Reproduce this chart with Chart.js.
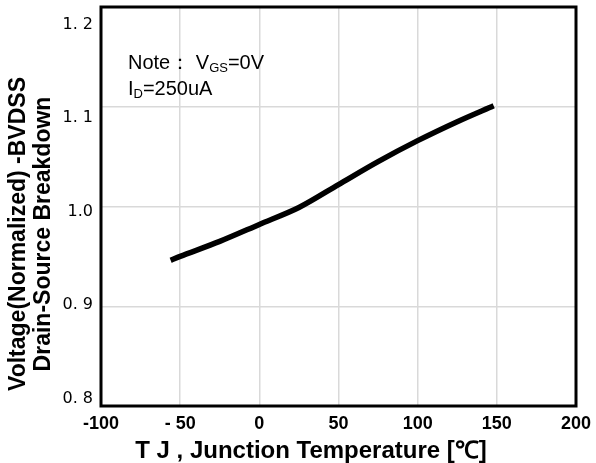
<!DOCTYPE html>
<html>
<head>
<meta charset="utf-8">
<script src="https://cdn.jsdelivr.net/npm/chart.js@4"></script>
<style>
  html, body { margin: 0; padding: 0; background: #fff; }
  #wrap { width: 596px; height: 463px; position: relative; }
</style>
</head>
<body>
<div id="wrap"><canvas id="myChart"></canvas></div>
<script>
// values
let temps = [-56, -50, -25, 0, 25, 50, 75, 100, 125, 148]
let volts = [0.946, 0.950, 0.965, 0.982, 0.999, 1.022, 1.045, 1.066, 1.085, 1.101]
let xTicks = [-100, -50, 0, 50, 100, 150, 200]
let xTickLabels = ["-100", "- 50", "0", "50", "100", "150", "200"]
let yTicks = [0.8, 0.9, 1.0, 1.1, 1.2]
let yTickLabels = ["0. 8", "0. 9", "1.0", "1. 1", "1. 2"]

const FONT = '"Liberation Sans", Arial, sans-serif'

function toPoints(xs, ys) {
    let pts = []
    for (let i = 0; i < xs.length; i++) {
        pts.push({ x: xs[i], y: ys[i] })
    }
    return pts
}

function noPad(scale) {
    scale.paddingTop = 0
    scale.paddingBottom = 0
    scale.paddingLeft = 0
    scale.paddingRight = 0
}

// frame, axis titles and the note text
const extras = {
    id: 'extras',
    afterDraw(chart) {
        let ctx = chart.ctx
        let a = chart.chartArea
        ctx.save()
        ctx.strokeStyle = '#000'
        ctx.lineWidth = 3
        ctx.strokeRect(a.left, a.top, a.right - a.left, a.bottom - a.top)

        ctx.fillStyle = '#000'
        ctx.textBaseline = 'alphabetic'
        ctx.textAlign = 'center'
        ctx.font = 'bold 24px ' + FONT
        ctx.fillText('T J , Junction Temperature [\u2103]', 311, 458)

        ctx.save()
        ctx.translate(0, 234)
        ctx.rotate(-Math.PI / 2)
        ctx.textBaseline = 'middle'
        ctx.font = 'bold 23px ' + FONT
        ctx.fillText('Voltage(Normalized) -BVDSS', 0, 19)
        ctx.fillText('Drain-Source Breakdown', 0, 44)
        ctx.restore()

        ctx.textAlign = 'left'
        ctx.font = '20px ' + FONT
        let x = 128
        ctx.fillText('Note\uFF1A V', x, 69)
        x += ctx.measureText('Note\uFF1A V').width
        ctx.font = '13px ' + FONT
        ctx.fillText('GS', x, 72)
        x += ctx.measureText('GS').width
        ctx.font = '20px ' + FONT
        ctx.fillText('=0V', x, 69)

        x = 128
        ctx.fillText('I', x, 95)
        x += ctx.measureText('I').width
        ctx.font = '13px ' + FONT
        ctx.fillText('D', x, 98)
        x += ctx.measureText('D').width
        ctx.font = '20px ' + FONT
        ctx.fillText('=250uA', x, 95)
        ctx.restore()
    }
}

function chartJS() {
    var ctx = document.getElementById('myChart').getContext('2d')
    window.line = new Chart(ctx, {
        type: 'scatter',
        data: {
            datasets: [{
                data: toPoints(temps, volts),
                yAxisID: 'y',
                showLine: true,
                borderColor: '#000',
                borderWidth: 5.5,
                borderCapStyle: 'butt',
                pointRadius: 0,
                tension: 0.3
            }]
        },
        options: {
            responsive: true,
            maintainAspectRatio: false,
            animation: false,
            layout: { padding: { top: 7, right: 20, left: 0, bottom: 0 } },
            plugins: { legend: { display: false }, tooltip: { enabled: false } },
            scales: {
                x: {
                    type: 'linear',
                    min: -100,
                    max: 200,
                    afterBuildTicks: (scale) => { scale.ticks = xTicks.map(v => ({ value: v })) },
                    afterFit: (scale) => { scale.height = 57; noPad(scale) },
                    grid: { color: '#d9d9d9', lineWidth: 1.5, drawTicks: false },
                    border: { display: false },
                    ticks: {
                        padding: 7,
                        color: '#000',
                        font: { family: FONT, size: 18, weight: 'bold' },
                        callback: (v) => xTickLabels[xTicks.indexOf(v)]
                    }
                },
                y: {
                    type: 'linear',
                    position: 'left',
                    min: 0.8,
                    max: 1.2,
                    afterBuildTicks: (scale) => { scale.ticks = yTicks.map(v => ({ value: v })) },
                    afterFit: (scale) => { scale.width = 0; noPad(scale) },
                    grid: { color: '#d9d9d9', lineWidth: 1.5, drawTicks: false },
                    border: { display: false },
                    ticks: { display: false }
                },
                // label-only axis: the printed labels sit a little off the grid lines
                yLabels: {
                    type: 'linear',
                    position: 'left',
                    min: 0.7921,
                    max: 1.219,
                    afterBuildTicks: (scale) => { scale.ticks = yTicks.map(v => ({ value: v })) },
                    afterFit: (scale) => { scale.width = 101; noPad(scale) },
                    grid: { display: false, drawTicks: false },
                    border: { display: false },
                    ticks: {
                        padding: 8,
                        color: '#000',
                        font: { family: '"DejaVu Sans", sans-serif', size: 16 },
                        callback: (v) => yTickLabels[yTicks.findIndex(t => Math.abs(t - v) < 1e-6)]
                    }
                }
            }
        },
        plugins: [extras]
    })
}

chartJS()
</script>
</body>
</html>
